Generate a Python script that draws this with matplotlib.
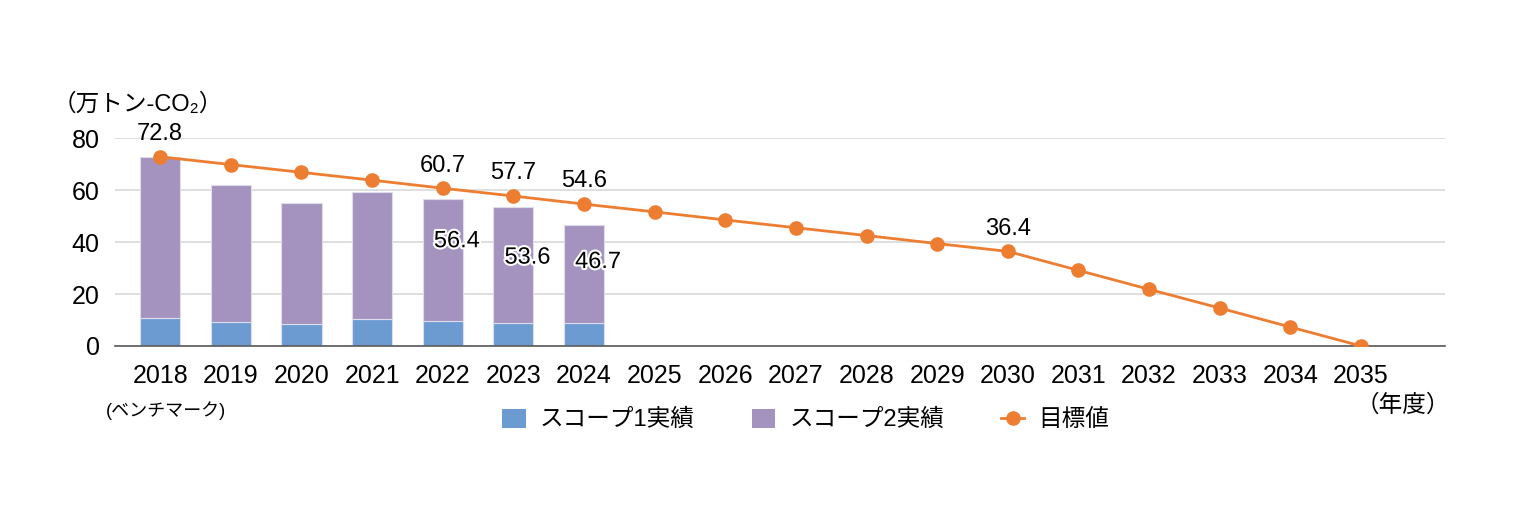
import matplotlib
matplotlib.use("Agg")
import matplotlib.pyplot as plt
import matplotlib.patheffects as pe
from matplotlib.lines import Line2D
from matplotlib.patches import Patch

plt.rcParams["font.family"] = ["Liberation Sans", "Noto Sans CJK JP", "DejaVu Sans"]

years = [str(y) for y in range(2018, 2036)]
actual_years = years[:7]
scope1 = [10.8, 9.2, 8.5, 10.4, 9.6, 8.8, 8.8]
total = [72.8, 61.9, 55.0, 59.2, 56.4, 53.6, 46.7]
scope2 = [t - s for t, s in zip(total, scope1)]
target = [72.8, 69.8, 66.8, 63.8, 60.7, 57.7, 54.6, 51.6, 48.5, 45.5,
          42.5, 39.4, 36.4, 29.1, 21.8, 14.6, 7.3, 0.0]

target_labels = {0: "72.8", 4: "60.7", 5: "57.7", 6: "54.6", 12: "36.4"}
total_labels = {4: (56.4, 40.3), 5: (53.6, 34.0), 6: (46.7, 32.3)}

c_s1 = "#6c9bd2"
c_s2 = "#a593bf"
c_tg = "#ed7d31"

fig = plt.figure(figsize=(15.35, 5.31), dpi=100)
ax = fig.add_axes([0.0749, 0.3484, 0.8665, 0.3916])

xs = list(range(len(years)))
xa = xs[:len(actual_years)]
ax.bar(xa, scope1, width=0.57, color=c_s1, edgecolor="#dcdcec", linewidth=0.8, zorder=2)
ax.bar(xa, scope2, width=0.57, bottom=scope1, color=c_s2, edgecolor="#dcdcec",
       linewidth=0.8, zorder=2)
ax.plot(xs, target, color=c_tg, lw=2, marker="o", markersize=9.5, zorder=3)

# labels on the target line
for i, txt in target_labels.items():
    ax.text(xs[i], target[i] + 8.7, txt, ha="center", va="center", fontsize=17, zorder=4)

# total labels inside bars
for i, (v, ypos) in total_labels.items():
    ax.text(xs[i] + 0.2, ypos, f"{v:.1f}", ha="center", va="center", fontsize=17, zorder=4,
            path_effects=[pe.withStroke(linewidth=3, foreground="white")])

ax.set_xlim(-0.64, 18.19)
ax.set_ylim(0, 80)
ax.set_yticks([0, 20, 40, 60, 80])
ax.set_xticks(xs)
ax.set_xticklabels(years)
ax.tick_params(axis="both", length=0, labelsize=18)
ax.tick_params(axis="x", pad=13)
ax.tick_params(axis="y", pad=11)
ax.grid(axis="y", color="#d9d9d9", lw=1.2, zorder=0)
ax.set_axisbelow(True)
for s in ["left", "right", "top"]:
    ax.spines[s].set_visible(False)
ax.spines["bottom"].set_color("#595959")
ax.spines["bottom"].set_linewidth(1.2)

fig.text(0.034, 0.803, "（万トン-CO₂）", fontsize=17, ha="left", va="center")
fig.text(0.108, 0.226, "(ベンチマーク)", fontsize=13, ha="center", va="center")
fig.text(0.914, 0.237, "（年度）", fontsize=17, ha="center", va="center")

handles = [
    Patch(facecolor=c_s1, label="スコープ1実績"),
    Patch(facecolor=c_s2, label="スコープ2実績"),
    Line2D([0], [0], color=c_tg, lw=2, marker="o", markersize=9.5, label="目標値"),
]
fig.legend(handles=handles, loc="center", bbox_to_anchor=(0.525, 0.209), ncol=3,
           frameon=False, fontsize=17, handlelength=1.0, handleheight=0.85,
           columnspacing=2.4, handletextpad=0.6)

fig.savefig("out.png", dpi=100)
